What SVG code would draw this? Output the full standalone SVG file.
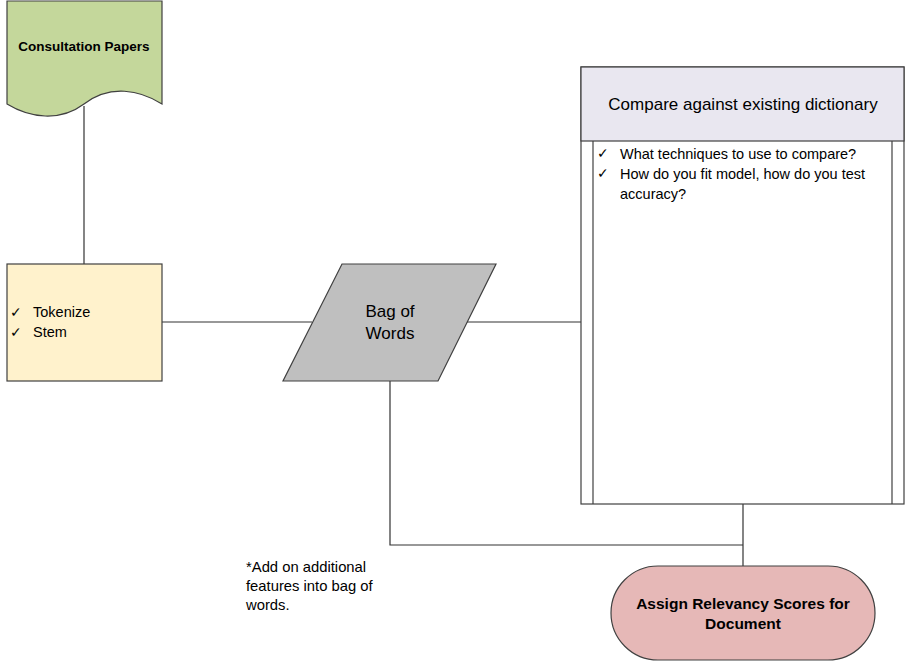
<svg xmlns="http://www.w3.org/2000/svg" width="906" height="661" viewBox="0 0 906 661">
<style>
text{font-family:"Liberation Sans",Arial,sans-serif;fill:#000}
.shape{stroke:#404040;stroke-width:1.2}
.conn{stroke:#333;stroke-width:1.2;fill:none}
.b{font-weight:bold}
</style>
<rect width="906" height="661" fill="#fff"/>
<g id="connectors">
<line class="conn" x1="84" y1="106" x2="84" y2="264"/>
<line class="conn" x1="162" y1="322" x2="312" y2="322"/>
<line class="conn" x1="467" y1="322" x2="581" y2="322"/>
<polyline class="conn" points="390,381 390,545 743,545"/>
<line class="conn" x1="743" y1="504" x2="743" y2="566"/>
</g>
<g id="consultation-papers">
<path class="shape" fill="#C4D79B" d="M7,1 H162 V104 C140,90 110,84 84,104 C60,122 30,118 7,104 Z"/>
<text class="b" x="84" y="51" font-size="13.5" text-anchor="middle">Consultation Papers</text>
</g>
<g id="tokenize">
<rect class="shape" x="7" y="264" width="155" height="117" fill="#FFF2CC"/>
<text x="10" y="317" font-size="14">✓</text>
<text x="33" y="317" font-size="14.5">Tokenize</text>
<text x="10" y="337" font-size="14">✓</text>
<text x="33" y="337" font-size="14.5">Stem</text>
</g>
<g id="bag-of-words">
<polygon class="shape" fill="#BFBFBF" points="342,264 496,264 438,381 283,381"/>
<text x="390" y="317" font-size="17" text-anchor="middle">Bag of</text>
<text x="390" y="339" font-size="17" text-anchor="middle">Words</text>
</g>
<g id="compare">
<rect class="shape" x="581" y="67" width="323" height="437" fill="#fff"/>
<rect class="shape" x="581" y="67" width="323" height="74" fill="#E9E7F0"/>
<line class="shape" x1="593" y1="141" x2="593" y2="504"/>
<line class="shape" x1="892" y1="141" x2="892" y2="504"/>
<text x="743" y="110" font-size="17" text-anchor="middle">Compare against existing dictionary</text>
<text x="597" y="158" font-size="14">✓</text>
<text x="620" y="159" font-size="14.5">What techniques to use to compare?</text>
<text x="597" y="178" font-size="14">✓</text>
<text x="620" y="179" font-size="14.5">How do you fit model, how do you test</text>
<text x="620" y="199" font-size="14.5">accuracy?</text>
</g>
<g id="assign-scores">
<rect class="shape" x="611" y="566" width="264" height="94" rx="47" ry="47" fill="#E6B8B7"/>
<text class="b" x="743" y="609" font-size="15.5" text-anchor="middle">Assign Relevancy Scores for</text>
<text class="b" x="743" y="629" font-size="15.5" text-anchor="middle">Document</text>
</g>
<g id="note">
<text x="246" y="572" font-size="14.8">*Add on additional</text>
<text x="246" y="591" font-size="14.8">features into bag of</text>
<text x="246" y="610" font-size="14.8">words.</text>
</g>
</svg>
